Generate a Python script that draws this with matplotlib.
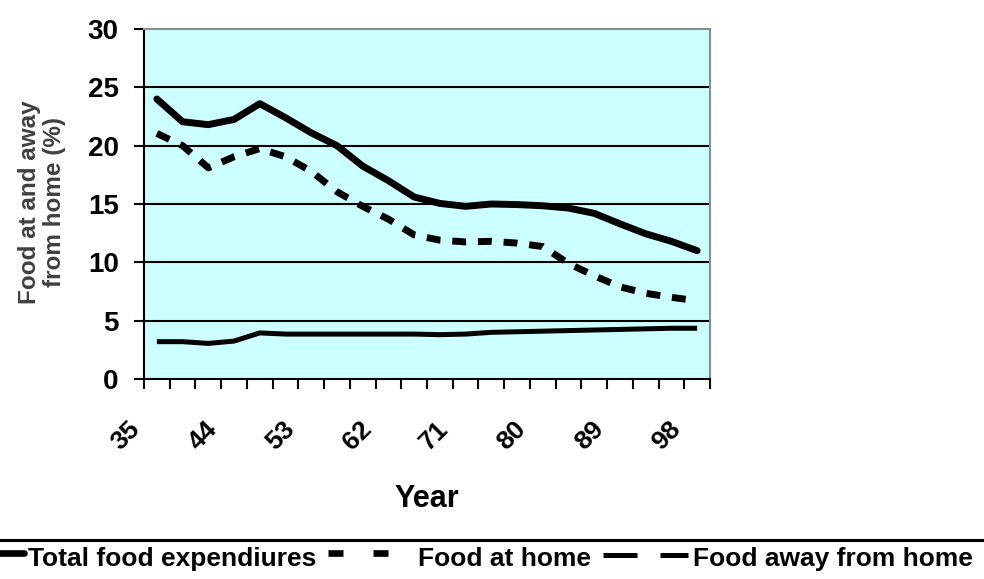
import numpy as np
import matplotlib
matplotlib.use("Agg")
import matplotlib.pyplot as plt
from matplotlib.lines import Line2D
from matplotlib.transforms import ScaledTranslation

plt.rcParams['font.family'] = ['Liberation Sans', 'DejaVu Sans']
plt.rcParams['font.weight'] = 'bold'

years = [35, 38, 41, 44, 47, 50, 53, 56, 59, 62, 65, 68, 71, 74, 77, 80, 83, 86, 89, 92, 95, 98]
total_food = [24.0, 22.05, 21.8, 22.25, 23.6, 22.4, 21.1, 20.0, 18.25, 17.0, 15.6, 15.05, 14.8, 15.0,
              14.95, 14.85, 14.65, 14.2, 13.3, 12.45, 11.8, 11.0]
food_home = [21.05, 20.0, 18.1, 19.05, 19.75, 19.05, 17.8, 16.05, 14.8, 13.7, 12.35, 11.9, 11.75, 11.8,
             11.65, 11.35, 9.9, 8.85, 7.9, 7.35, 7.0, 6.7]
food_away = [3.2, 3.2, 3.05, 3.25, 3.95, 3.85, 3.85, 3.85, 3.85, 3.85, 3.85, 3.8, 3.85, 4.0,
             4.05, 4.1, 4.15, 4.2, 4.25, 4.3, 4.35, 4.35]
label_years = [35, 44, 53, 62, 71, 80, 89, 98]
yticks = [0, 5, 10, 15, 20, 25, 30]
legend_labels = ["Total food expendiures", "Food at home", "Food away from home"]

W, H = 984, 579
fig = plt.figure(figsize=(W / 100, H / 100), dpi=100)
ax = fig.add_axes([144 / W, 1 - 379 / H, 566 / W, 350 / H])
ax.set_facecolor('#CCFFFF')

x = np.arange(len(years))
ax.plot(x, total_food, color='black', lw=5.0, solid_capstyle='round', solid_joinstyle='round', zorder=3)
ax.plot(x, food_home, color='black', lw=5.0, linestyle=(0, (2.0, 1.7)), dash_capstyle='butt', zorder=3)
ax.plot(x, food_away, color='black', lw=3.6, solid_capstyle='butt', zorder=3)

ax.set_xlim(-0.5, len(years) - 0.5)
ax.set_ylim(0, 30)
ax.set_yticks(yticks)
ax.set_yticklabels([str(v) for v in yticks], fontsize=20, fontweight='bold')
for v in yticks[1:-1]:
    ax.axhline(v, color='black', lw=1.5, zorder=1)

lab_pos = [years.index(v) for v in label_years]
ax.set_xticks(lab_pos)
ax.set_xticklabels([str(v) for v in label_years], rotation=45, ha='right', va='top',
                   fontsize=19, fontweight='bold')
ax.set_xticks(np.arange(-0.5, len(years)), minor=True)
ax.tick_params(axis='x', which='major', length=0, pad=27)
ax.tick_params(axis='x', which='minor', length=7.2, width=1.5, direction='out', color='black')
ax.tick_params(axis='y', length=7.2, width=1.5, direction='out', pad=11)
off = ScaledTranslation(-12 / 100, 0, fig.dpi_scale_trans)
for t in ax.get_xticklabels():
    t.set_transform(t.get_transform() + off)

for s in ['left', 'bottom']:
    ax.spines[s].set_color('black')
    ax.spines[s].set_linewidth(1.5)
for s in ['top', 'right']:
    ax.spines[s].set_color('#8c8c8c')
    ax.spines[s].set_linewidth(1.5)

fig.text(42 / W, 1 - 202 / H, "Food at and away\nfrom home (%)", rotation=90, ha='center', va='center',
         fontsize=17.5, fontweight='bold', color='#404040', linespacing=1.15)
fig.text(427 / W, 1 - 507 / H, "Year", ha='center', va='baseline', fontsize=22, fontweight='bold')

# legend
def fx(px):
    return px / W

def fy(py):
    return 1 - py / H

fig.add_artist(Line2D([0, 1], [fy(540), fy(540)], color='black', lw=2.2, transform=fig.transFigure))
fig.add_artist(Line2D([fx(-5), fx(24)], [fy(553), fy(553)], color='black', lw=4.8,
                      solid_capstyle='round', transform=fig.transFigure))
for a, b in [(328, 343), (373, 388)]:
    fig.add_artist(Line2D([fx(a), fx(b)], [fy(553), fy(553)], color='black', lw=4.8,
                          solid_capstyle='butt', transform=fig.transFigure))
for a, b in [(603, 637), (660, 688)]:
    fig.add_artist(Line2D([fx(a), fx(b)], [fy(555), fy(555)], color='black', lw=3.6,
                          solid_capstyle='butt', transform=fig.transFigure))
for px, txt in zip([28, 418, 693], legend_labels):
    fig.text(fx(px), fy(566), txt, ha='left', va='baseline', fontsize=19, fontweight='bold')

fig.savefig('out.png', dpi=100)
